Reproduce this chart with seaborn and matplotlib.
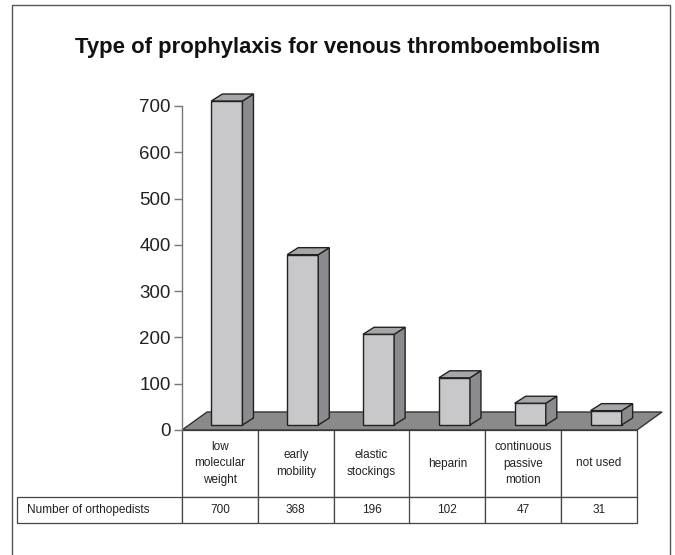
import matplotlib
matplotlib.use("Agg")
import matplotlib.pyplot as plt
import matplotlib.transforms as mtransforms
from matplotlib.patches import Polygon, Rectangle
import seaborn as sns
import pandas as pd

# data
categories = ['low\nmolecular\nweight', 'early\nmobility', 'elastic\nstockings',
              'heparin', 'continuous\npassive\nmotion', 'not used']
counts = [700, 368, 196, 102, 47, 31]
row_label = 'Number of orthopedists'
yticks = [0, 100, 200, 300, 400, 500, 600, 700]
title = 'Type of prophylaxis for venous thromboembolism'

df = pd.DataFrame({'type': categories, 'n': counts})

sns.set_style('ticks')
plt.rcParams['font.family'] = ['Liberation Sans', 'DejaVu Sans']

W, H = 675, 555
fig = plt.figure(figsize=(W / 100, H / 100), dpi=100)
ax = fig.add_axes([182 / W, 1 - 430 / H, 455 / W, 324 / H])

sns.barplot(data=df, x='type', y='n', color='#c8c8ca', saturation=1, width=0.41,
            edgecolor='#222222', linewidth=1, ax=ax)
ax.set_xlim(-0.5, 5.5)
ax.set_ylim(0, 700)
ax.set_yticks(yticks)
ax.set_xlabel('')
ax.set_ylabel('')
ax.set_xticks(range(len(categories)))
ax.set_xticklabels([])
ax.tick_params(axis='x', bottom=False)
ax.tick_params(axis='y', left=True, length=6, width=1, color='#777777',
               labelsize=13.5, labelcolor='#222222', pad=2)
for s in ['top', 'right', 'bottom']:
    ax.spines[s].set_visible(False)
ax.spines['left'].set_color('#777777')
ax.spines['left'].set_linewidth(1)

# fake 3d: floor, bar sides and tops
fdx, fdy = 25, 18   # floor depth in pixels
bdx, bdy = 11, 7    # bar depth in pixels
off = mtransforms.offset_copy(ax.transData, fig=fig, x=7, y=5, units='dots')
ident = mtransforms.IdentityTransform()

(fl, _), (fr, _) = ax.transData.transform([(-0.5, 0), (5.5, 0)])
_, fy = ax.transData.transform((0, 0))
floor = Polygon([(fl, fy), (fr, fy), (fr + fdx, fy + fdy), (fl + fdx, fy + fdy)],
                closed=True, transform=ident, facecolor='#8a8a8a',
                edgecolor='#333333', lw=1, zorder=0.5, clip_on=False)

bars = list(ax.patches)
ax.add_patch(floor)
for p in bars:
    p.set_transform(off)
    p.set_clip_on(False)
    p.set_zorder(3)
    x0, x1 = p.get_x(), p.get_x() + p.get_width()
    h = p.get_height()
    (ax0, ay0), (ax1, ay1) = off.transform([(x0, 0), (x1, h)])
    side = Polygon([(ax1, ay0), (ax1 + bdx, ay0 + bdy), (ax1 + bdx, ay1 + bdy), (ax1, ay1)],
                   closed=True, transform=ident, facecolor='#8a8a8f',
                   edgecolor='#222222', lw=1, zorder=3, clip_on=False)
    top = Polygon([(ax0, ay1), (ax1, ay1), (ax1 + bdx, ay1 + bdy), (ax0 + bdx, ay1 + bdy)],
                  closed=True, transform=ident, facecolor='#a6a6aa',
                  edgecolor='#222222', lw=1, zorder=3, clip_on=False)
    ax.add_patch(side)
    ax.add_patch(top)

# data table under the chart, first column holds the row label
tbl = ax.table(cellText=[[row_label] + [str(c) for c in counts]],
               colLabels=[''] + categories, cellLoc='center',
               colWidths=[165] + [455 / 6] * len(counts),
               bbox=[(17 - 182) / 455, -93 / 324, 620 / 455, 93 / 324])
tbl.auto_set_font_size(False)
tbl.set_fontsize(8.5)
for (r, c), cell in tbl.get_celld().items():
    cell.set_height((67 if r == 0 else 26) / 324)
    cell.set_edgecolor('#444444')
    cell.set_linewidth(0.9)
    cell.get_text().set_color('#222222')
    cell.get_text().set_linespacing(1.45)
    if c == 0:
        cell.PAD = 0.06
        cell.get_text().set_ha('left')
        if r == 0:
            cell.visible_edges = 'open'

fig.text(338 / W, 1 - 47 / H, title, ha='center', va='center',
         fontsize=15.9, fontweight='bold', color='#111111')

# outer frame
fig.add_artist(Rectangle((12 / W, -0.1), (670 - 12) / W, 1.1 - 5 / H,
                         transform=fig.transFigure, fill=False,
                         edgecolor='#555555', lw=1))

fig.savefig('out.png', dpi=100)
